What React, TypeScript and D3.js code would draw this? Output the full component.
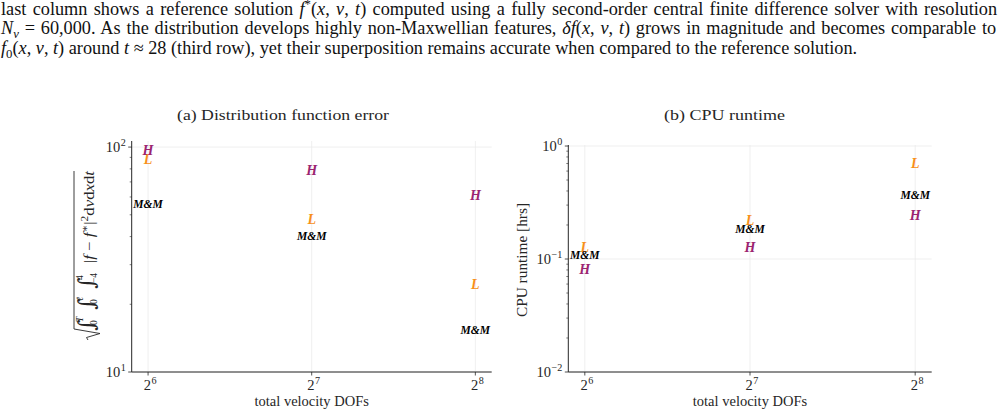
import React, { useLayoutEffect, useRef, useState } from "react";
import * as d3 from "d3";

// Velocity degrees of freedom (x positions)
const dofs = [64, 128, 256];

// Distribution function error per method
const errorH = [97, 78.5, 61.2];
const errorL = [88, 47.7, 24.6];
const errorMM = [56.2, 40.5, 15.5];

// CPU runtime in hours per method
const runtimeH = [0.082, 0.126, 0.245];
const runtimeL = [0.126, 0.221, 0.7];
const runtimeMM = [0.11, 0.186, 0.374];

const methodNames = ["L", "H", "M&M"];
const methodColors = ["#f7901a", "#9b2470", "#000000"];

const xTickExps = [6, 7, 8];
const errorTickExps = [1, 2];
const runtimeTickExps = [-2, -1, 0];

const titles = ["(a) Distribution function error", "(b) CPU runtime"];
const xLabel = "total velocity DOFs";
const runtimeLabel = "CPU runtime [hrs]";

type Seg = { t: string; i?: boolean; sup?: boolean; sub?: boolean };

const paragraph: Seg[][] = [
  [
    { t: "last column shows a reference solution " },
    { t: "f", i: true },
    { t: "*", sup: true },
    { t: "(" },
    { t: "x", i: true },
    { t: ", " },
    { t: "v", i: true },
    { t: ", " },
    { t: "t", i: true },
    { t: ") computed using a fully second-order central finite difference solver with resolution" },
  ],
  [
    { t: "N", i: true },
    { t: "v", i: true, sub: true },
    { t: " = 60,000. As the distribution develops highly non-Maxwellian features, " },
    { t: "δ", i: true },
    { t: "f", i: true },
    { t: "(" },
    { t: "x", i: true },
    { t: ", " },
    { t: "v", i: true },
    { t: ", " },
    { t: "t", i: true },
    { t: ") grows in magnitude and becomes comparable to" },
  ],
  [
    { t: "f", i: true },
    { t: "0", sub: true },
    { t: "(" },
    { t: "x", i: true },
    { t: ", " },
    { t: "v", i: true },
    { t: ", " },
    { t: "t", i: true },
    { t: ") around " },
    { t: "t", i: true },
    { t: " ≈ 28 (third row), yet their superposition remains accurate when compared to the reference solution." },
  ],
];
// line widths: the first two lines are justified, the last one is natural
const paragraphWidths = [997, 996, 857];

const FONT = "'Liberation Serif', 'DejaVu Serif', serif";
const INK = "#262626";
const GRID = "#ebebeb";

function segSpans(segs: Seg[], size: number) {
  let shift = 0;
  return segs.map((s, k) => {
    const target = s.sup ? -size * 0.38 : s.sub ? size * 0.22 : 0;
    const dy = target - shift;
    shift = target;
    return (
      <tspan
        key={k}
        dy={dy || undefined}
        fontStyle={s.i ? "italic" : undefined}
        fontSize={s.sup || s.sub ? size * 0.7 : undefined}
      >
        {s.t}
      </tspan>
    );
  });
}

function Pow({ x, y, base, exp, anchor, size = 14.5 }: any) {
  return (
    <text x={x} y={y} textAnchor={anchor} fontSize={size} fontFamily={FONT} fill={INK}>
      {base}
      <tspan dx={0.5} dy={-size * 0.42} fontSize={size * 0.7}>
        {exp}
      </tspan>
    </text>
  );
}

type PanelProps = {
  left: number;
  right: number;
  top: number;
  bottom: number;
  yDomain: [number, number];
  yExps: number[];
  series: number[][];
  title: string;
  titleX: number;
  titleWidth: number;
};

function Panel({ left, right, top, bottom, yDomain, yExps, series, title, titleX, titleWidth }: PanelProps) {
  const x = d3.scaleLog().base(2).domain([Math.pow(2, 5.9), Math.pow(2, 8.1)]).range([left, right]);
  const y = d3.scaleLog().domain(yDomain).range([bottom, top]);

  const minor: number[] = [];
  const lo = Math.floor(Math.log10(yDomain[0]));
  const hi = Math.ceil(Math.log10(yDomain[1]));
  for (let d = lo; d < hi; d++) {
    for (let k = 2; k <= 9; k++) {
      const v = k * Math.pow(10, d);
      if (v >= yDomain[0] && v <= yDomain[1]) minor.push(v);
    }
  }

  return (
    <g>
      <text
        x={titleX}
        y={120}
        textAnchor="middle"
        fontSize={14}
        fontFamily={FONT}
        fill={INK}
        textLength={titleWidth}
        lengthAdjust="spacingAndGlyphs"
      >
        {title}
      </text>

      {/* gridlines */}
      {xTickExps.map((e) => (
        <line key={"gx" + e} x1={x(Math.pow(2, e))} x2={x(Math.pow(2, e))} y1={top} y2={bottom} stroke={GRID} strokeWidth={0.8} />
      ))}
      {yExps.map((e) => (
        <line key={"gy" + e} x1={left} x2={right} y1={y(Math.pow(10, e))} y2={y(Math.pow(10, e))} stroke={GRID} strokeWidth={0.8} />
      ))}

      {/* spines */}
      <line x1={left} x2={left} y1={top} y2={bottom} stroke={INK} strokeWidth={1} />
      <line x1={left} x2={right} y1={bottom} y2={bottom} stroke={INK} strokeWidth={1} />

      {/* y ticks */}
      {yExps.map((e) => (
        <g key={"ty" + e}>
          <line x1={left - 3.5} x2={left} y1={y(Math.pow(10, e))} y2={y(Math.pow(10, e))} stroke={INK} strokeWidth={0.8} />
          <Pow x={left - 6} y={y(Math.pow(10, e)) + 5} base="10" exp={e < 0 ? "−" + Math.abs(e) : String(e)} anchor="end" />
        </g>
      ))}
      {minor.map((v, k) => (
        <line key={"my" + k} x1={left - 2} x2={left} y1={y(v)} y2={y(v)} stroke={INK} strokeWidth={0.6} />
      ))}

      {/* x ticks */}
      {xTickExps.map((e) => (
        <g key={"tx" + e}>
          <line x1={x(Math.pow(2, e))} x2={x(Math.pow(2, e))} y1={bottom} y2={bottom + 3.5} stroke={INK} strokeWidth={0.8} />
          <Pow x={x(Math.pow(2, e)) + 2} y={bottom + 18} base="2" exp={String(e)} anchor="middle" />
        </g>
      ))}
      <text x={(left + right) / 2} y={bottom + 34} textAnchor="middle" fontSize={14.5} fontFamily={FONT} fill={INK}>
        {xLabel}
      </text>

      {/* text markers */}
      {series.map((vals, si) =>
        vals.map((v, j) => {
          const isMM = methodNames[si] === "M&M";
          return (
            <text
              key={"m" + si + "-" + j}
              x={x(dofs[j])}
              y={y(v)}
              dy="0.34em"
              textAnchor="middle"
              fontSize={isMM ? 13 : 14}
              fontWeight="bold"
              fontStyle="italic"
              fontFamily={FONT}
              fill={methodColors[si]}
              textLength={isMM ? 29.5 : undefined}
              lengthAdjust={isMM ? "spacingAndGlyphs" : undefined}
            >
              {methodNames[si]}
            </text>
          );
        })
      )}
    </g>
  );
}

function ErrorLabel() {
  // rotated integral norm label: local x runs upward along the left axis
  const intFont = "'DejaVu Serif', serif";
  return (
    <g transform="translate(94,340) rotate(-90)" fill={INK} fontFamily={FONT}>
      <path d="M0,-6 L2.5,-7.5 L6.5,6 L11,-20 L169,-20" fill="none" stroke={INK} strokeWidth={0.9} />
      <text x={9} y={0} fontSize={22} fontFamily={intFont}>∫</text>
      <text x={18} y={-11} fontSize={9.5} fontStyle="italic">T</text>
      <text x={15} y={3} fontSize={9.5}>0</text>
      <text x={30} y={0} fontSize={22} fontFamily={intFont}>∫</text>
      <text x={39} y={-11} fontSize={9.5} fontStyle="italic">ℓ</text>
      <text x={36} y={3} fontSize={9.5}>0</text>
      <text x={51} y={0} fontSize={22} fontFamily={intFont}>∫</text>
      <text x={60} y={-11} fontSize={9.5}>4</text>
      <text x={57} y={3} fontSize={9.5}>−4</text>
      <text x={77} y={0} fontSize={14} textLength={92} lengthAdjust="spacingAndGlyphs">
        <tspan>|</tspan>
        <tspan fontStyle="italic">f</tspan>
        <tspan> − </tspan>
        <tspan fontStyle="italic">f</tspan>
        <tspan dy={-6} fontSize={9.5}>∗</tspan>
        <tspan dy={6}>|</tspan>
        <tspan dy={-6} fontSize={9.5}>2</tspan>
        <tspan dy={6}>d</tspan>
        <tspan fontStyle="italic">v</tspan>
        <tspan>d</tspan>
        <tspan fontStyle="italic">x</tspan>
        <tspan>d</tspan>
        <tspan fontStyle="italic">t</tspan>
      </text>
    </g>
  );
}

function Paragraph() {
  const refs = useRef<(SVGTextElement | null)[]>([]);
  const [fit, setFit] = useState<{ fs: number; ws: number[] } | null>(null);

  useLayoutEffect(() => {
    if (fit) return;
    const base = 16;
    const nat = refs.current.map((el) => (el ? el.getComputedTextLength() : 0));
    const last = paragraph.length - 1;
    const fs = nat[last] > 0 ? (base * paragraphWidths[last]) / nat[last] : base;
    const ws = nat.map((n, i) => {
      if (i === last) return 0;
      const spaces = paragraph[i].map((s) => s.t).join("").split(" ").length - 1;
      return (paragraphWidths[i] - (n * fs) / base) / Math.max(1, spaces);
    });
    setFit({ fs, ws });
  }, [fit]);

  const fs = fit ? fit.fs : 16;
  return (
    <g>
      {paragraph.map((segs, li) => (
        <text
          key={li}
          ref={(el) => {
            refs.current[li] = el;
          }}
          x={1}
          y={15 + li * 19.3}
          fontSize={fs}
          fill="#111"
          style={{ wordSpacing: fit ? `${fit.ws[li]}px` : undefined }}
        >
          {segSpans(segs, fs)}
        </text>
      ))}
    </g>
  );
}

export default function App() {
  return (
    <svg
      width={1006}
      height={416}
      style={{ position: "absolute", left: 0, top: 0, background: "#fff" }}
      fontFamily={FONT}
    >
      <rect width={1006} height={416} fill="#fff" />
      <Paragraph />

      <Panel
        left={131.7}
        right={491.7}
        top={141}
        bottom={372}
        yDomain={[10, Math.pow(10, 2.027)]}
        yExps={errorTickExps}
        series={[errorL, errorH, errorMM]}
        title={titles[0]}
        titleX={283}
        titleWidth={212}
      />
      <ErrorLabel />

      <Panel
        left={568.3}
        right={931.7}
        top={145}
        bottom={372}
        yDomain={[0.01, Math.pow(10, 0.009)]}
        yExps={runtimeTickExps}
        series={[runtimeL, runtimeH, runtimeMM]}
        title={titles[1]}
        titleX={724.5}
        titleWidth={121}
      />
      <text
        transform="translate(527,260) rotate(-90)"
        textAnchor="middle"
        fontSize={14.5}
        fontFamily={FONT}
        fill={INK}
        textLength={114}
        lengthAdjust="spacingAndGlyphs"
      >
        {runtimeLabel}
      </text>
    </svg>
  );
}
